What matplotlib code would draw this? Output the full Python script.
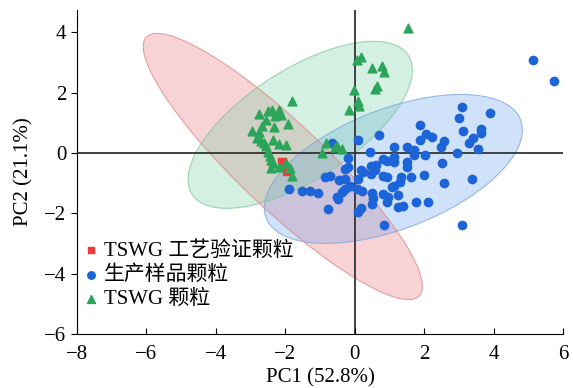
import numpy as np
import matplotlib
matplotlib.use("Agg")
import matplotlib.pyplot as plt
from matplotlib.patches import Ellipse

plt.rcParams['font.family'] = ['Liberation Serif', 'Noto Sans CJK SC']
plt.rcParams['axes.unicode_minus'] = True

labels = ['TSWG 工艺验证颗粒', '生产样品颗粒', 'TSWG 颗粒']

red_x = [-2.10, -1.94]
red_y = [-0.29, -0.60]

blue_x = [5.72, 5.13, 3.09, 3.89, 3.00, 1.89, 3.11, 3.63, 3.64, 3.41, 3.30, 3.55, 2.95,
          2.04, 2.21, 1.88, 2.56, 2.49, 0.69, 0.09, 1.50, 1.71, 1.13, 0.43, 1.70, 2.03,
          -0.20, 0.82, 0.94, 1.12, 1.13, 1.51, 1.51, 2.51, 0.61, 0.47, -0.20, 0.17, 0.23,
          0.58, 0.47, 0.82, 0.94, 1.32, 1.62, 2.00, 3.36, 2.58, -0.85, -0.72, -0.44, -0.29,
          0.10, -0.14, -0.28, 0.06, 0.20, 1.31, 1.06, 1.13, 1.23, 0.82, 0.49, 0.53, 0.96,
          0.94, 1.24, 1.39, 1.75, 2.12, 0.49, -0.37, -0.51, -0.49, -0.78, 0.17, 0.09, 0.85,
          3.09, -1.51, -1.29, -1.06, -1.88, -0.66, -0.28]
blue_y = [2.38, 3.08, 1.51, 1.32, 1.16, 0.93, 0.71, 0.79, 0.66, 0.49, 0.32, 0.12, -0.01,
          0.63, 0.54, 0.43, 0.41, 0.18, 0.60, 0.43, 0.21, 0.10, 0.20, 0.04, -0.07, -0.08,
          -0.16, -0.19, -0.26, -0.14, -0.29, -0.29, -0.46, -0.34, -0.40, -0.43, -0.48, -0.57, -0.62,
          -0.57, -0.70, -0.77, -0.79, -0.79, -0.81, -0.72, -0.87, -1.01, -0.79, -0.77, -0.90, -0.88,
          -0.88, -1.10, -1.18, -1.18, -1.27, -0.98, -1.12, -1.10, -1.38, -1.37, -1.34, -1.48, -1.46,
          -1.64, -1.79, -1.76, -1.61, -1.61, -1.68, -1.29, -1.46, -1.54, -1.87, -1.81, -1.96, -2.40,
          -2.40, -1.27, -1.27, -1.34, -1.18, 0.32, -0.53]

green_x = [1.53, 0.18, 0.06, 0.49, 0.77, 0.85, 0.63, 0.58, -0.02, 0.09, 0.12, -0.18,
           -1.82, -2.75, -2.51, -2.37, -2.18, -2.11, -2.29, -2.56, -1.91, -2.66, -2.32, -2.96,
           -2.75, -2.80, -2.70, -2.61, -2.35, -2.18, -1.97, -2.56, -2.51, -2.45, -2.42, -2.35,
           -2.18, -2.42, -1.97, -1.85, -1.80, -0.83, -0.94, -0.37, -0.51, -0.56]
green_y = [4.13, 3.19, 3.07, 2.82, 2.88, 2.68, 2.23, 2.12, 2.08, 1.71, 1.57, 1.41,
           1.71, 1.30, 1.38, 1.41, 1.43, 1.27, 1.21, 1.10, 0.96, 0.88, 0.86, 0.71,
           0.68, 0.49, 0.41, 0.32, 0.43, 0.30, 0.27, 0.23, 0.02, -0.10, -0.23, -0.32,
           -0.46, -0.51, -0.32, -0.51, -0.77, 0.34, 0.01, 0.12, 0.23, 0.21]

# confidence ellipses: centre and shape matrix (xx, yy, xy)
ell_center = [(-2.07, -0.45), (1.11, -0.53), (-1.57, 0.93)]
ell_shape = [(16.14, 19.44, -15.95), (13.80, 6.08, 4.79), (10.42, 7.65, 5.85)]

fill_cols = ['#e86268', '#5897ee', '#66cc98']
edge_cols = ['#e08a8c', '#7fa8e0', '#86c8a4']
mark_cols = ['#ee3b3b', '#1c64d8', '#2aa55a']

fig = plt.figure(figsize=(5.73, 3.88), dpi=100)
ax = fig.add_axes([0.134, 0.139, 0.849, 0.835])

for (cx, cy), (sxx, syy, sxy), fc, ec in zip(ell_center, ell_shape, fill_cols, edge_cols):
    vals, vecs = np.linalg.eigh(np.array([[sxx, sxy], [sxy, syy]]))
    ang = np.degrees(np.arctan2(vecs[1, 1], vecs[0, 1]))
    e = Ellipse((cx, cy), 2 * np.sqrt(vals[1]), 2 * np.sqrt(vals[0]), angle=ang,
                facecolor=fc, edgecolor='none', alpha=0.28, zorder=1)
    ax.add_patch(e)
    e2 = Ellipse((cx, cy), 2 * np.sqrt(vals[1]), 2 * np.sqrt(vals[0]), angle=ang,
                 facecolor='none', edgecolor=ec, lw=0.8, alpha=0.8, zorder=1.1)
    ax.add_patch(e2)

ax.axhline(0, color='#333333', lw=1.3, zorder=1.5)
ax.axvline(0, color='#333333', lw=1.3, zorder=1.5)

ax.scatter(red_x, red_y, marker='s', s=30, color=mark_cols[0], label=labels[0], zorder=3)
ax.scatter(blue_x, blue_y, marker='o', s=36, color=mark_cols[1], label=labels[1], zorder=3)
ax.scatter(green_x, green_y, marker='^', s=40, color=mark_cols[2], label=labels[2], zorder=3)

ax.set_xlim(-8, 6)
ax.set_ylim(-6, 4.73)
ax.set_xticks(range(-8, 7, 2))
ax.set_yticks(range(-6, 5, 2))
ax.spines['top'].set_visible(False)
ax.spines['right'].set_visible(False)
ax.tick_params(axis='x', direction='in', length=4, labelsize=15, pad=8)
ax.tick_params(axis='y', direction='out', length=4, labelsize=15)
ax.set_xlabel('PC1 (52.8%)', fontsize=15, labelpad=3)
ax.set_ylabel('PC2 (21.1%)', fontsize=15, labelpad=8)

ax.legend(loc='upper left', bbox_to_anchor=(0.0, 0.30), frameon=False, fontsize=15,
          handletextpad=0.1, labelspacing=0.22, borderpad=0, borderaxespad=0.2,
          handlelength=1.0, markerscale=0.9)

fig.savefig('out.png', dpi=100)
